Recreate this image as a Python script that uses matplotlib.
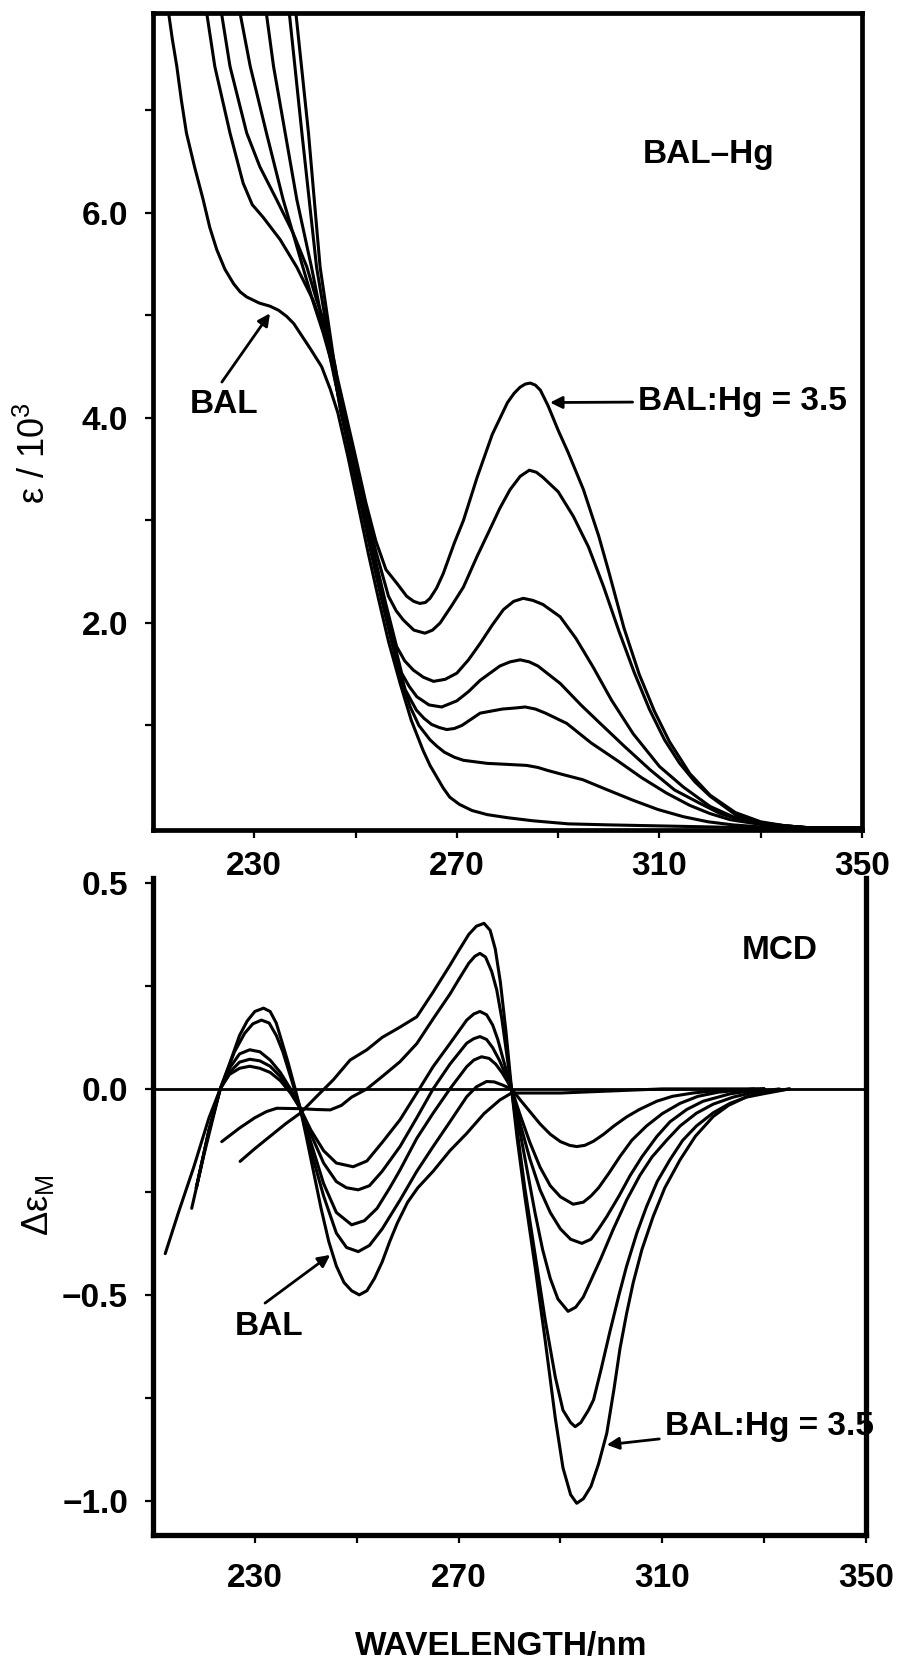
import matplotlib
matplotlib.use("Agg")
import matplotlib.pyplot as plt

plt.rcParams['font.family'] = ['Liberation Sans', 'DejaVu Sans']

## ========================================================
## UV absorption spectra  (epsilon / 10^3)
## C1 = BAL ... C7 = BAL:Hg = 3.5
## ========================================================
uv_wl_1 = [212.8, 213.8, 214.7, 215.6, 216.6, 218.2, 219.9, 221.2, 222.6, 224.2, 225.9, 227.2,
           228.5, 231.0, 233.1, 234.8, 236.4, 237.8, 239.0, 241.0, 243.3, 245.0, 246.5, 248.5,
           250.5, 252.5, 254.5, 256.5, 258.8, 261.0, 263.3, 264.7, 266.0, 267.3, 268.6, 270.5,
           273.0, 276.0, 280.0, 285.0, 292.0, 300.0, 310.0, 320.0, 330.0, 350.0]
uv_eps_1 = [8.05, 7.70, 7.43, 7.10, 6.78, 6.45, 6.13, 5.86, 5.64, 5.45, 5.31, 5.23,
            5.18, 5.12, 5.09, 5.05, 4.99, 4.92, 4.83, 4.68, 4.50, 4.28, 4.05, 3.62,
            3.15, 2.68, 2.24, 1.82, 1.41, 1.05, 0.76, 0.61, 0.50, 0.39, 0.30, 0.23,
            0.17, 0.13, 0.10, 0.07, 0.04, 0.03, 0.02, 0.01, 0.0, 0.0]

uv_wl_2 = [220.3, 222.2, 225.2, 227.8, 229.6, 231.7, 235.1, 238.4, 241.6, 244.0, 245.6, 247.0,
           249.0, 251.0, 253.0, 255.0, 257.0, 259.0, 260.8, 262.5, 264.7, 266.0, 267.5, 269.5,
           271.3, 276.0, 280.0, 283.8, 286.0, 288.0, 291.0, 294.9, 299.8, 304.8, 309.7, 314.7,
           319.6, 324.5, 330.0, 340.0, 350.0]
uv_eps_2 = [8.05, 7.43, 6.78, 6.29, 6.08, 5.96, 5.74, 5.47, 5.15, 4.83, 4.50, 4.08,
            3.62, 3.16, 2.70, 2.26, 1.84, 1.45, 1.18, 1.00, 0.86, 0.80, 0.74, 0.69,
            0.66, 0.63, 0.62, 0.61, 0.59, 0.56, 0.52, 0.47, 0.37, 0.27, 0.18, 0.11,
            0.06, 0.03, 0.01, 0.0, 0.0]

uv_wl_3 = [223.2, 225.2, 228.5, 231.1, 234.4, 237.7, 240.4, 242.3, 244.5, 246.0, 247.2, 249.3,
           251.3, 253.3, 255.3, 257.3, 259.8, 262.0, 263.5, 265.0, 266.5, 268.0, 269.5, 271.0,
           274.6, 279.0, 281.5, 283.5, 285.5, 287.5, 291.7, 296.5, 301.6, 306.5, 311.4, 316.0,
           320.0, 324.0, 327.9, 332.0, 340.0, 350.0]
uv_eps_3 = [8.05, 7.43, 6.78, 6.45, 6.13, 5.80, 5.47, 5.15, 4.83, 4.50, 4.08, 3.58,
            3.12, 2.66, 2.22, 1.80, 1.35, 1.15, 1.07, 1.01, 0.98, 0.96, 0.97, 1.00,
            1.12, 1.16, 1.17, 1.18, 1.16, 1.12, 1.02, 0.83, 0.66, 0.49, 0.34, 0.22,
            0.14, 0.08, 0.05, 0.02, 0.0, 0.0]

uv_wl_4 = [226.8, 229.2, 232.4, 235.7, 239.6, 241.5, 243.6, 245.5, 247.2, 249.5, 251.5, 253.5,
           255.5, 257.5, 259.1, 260.6, 262.1, 264.5, 267.0, 270.0, 272.3, 274.6, 278.5, 280.5,
           282.5, 284.3, 286.0, 290.4, 294.5, 298.3, 303.0, 308.1, 313.0, 318.0, 322.0, 325.9,
           330.0, 335.0, 340.0, 350.0]
uv_eps_4 = [8.05, 7.43, 6.78, 6.13, 5.47, 5.15, 4.83, 4.50, 4.05, 3.55, 3.10, 2.67,
            2.25, 1.83, 1.51, 1.38, 1.28, 1.20, 1.18, 1.24, 1.33, 1.44, 1.58, 1.62,
            1.64, 1.62, 1.58, 1.41, 1.20, 1.02, 0.80, 0.57, 0.37, 0.24, 0.14, 0.08,
            0.04, 0.02, 0.0, 0.0]

uv_wl_5 = [232.1, 233.8, 236.1, 238.4, 241.3, 243.0, 244.5, 246.0, 247.5, 250.0, 252.0, 254.0,
           256.0, 258.1, 259.7, 261.4, 263.4, 265.4, 267.7, 270.0, 272.3, 274.6, 277.0, 279.2,
           281.2, 283.1, 285.0, 287.0, 290.4, 293.5, 296.9, 300.5, 304.8, 310.0, 314.7, 320.0,
           324.5, 330.0, 335.0, 340.0, 350.0]
uv_eps_5 = [8.05, 7.43, 6.78, 6.13, 5.47, 5.05, 4.70, 4.35, 4.02, 3.50, 3.05, 2.60,
            2.18, 1.77, 1.63, 1.54, 1.47, 1.43, 1.45, 1.51, 1.64, 1.80, 1.98, 2.13,
            2.21, 2.24, 2.22, 2.18, 2.06, 1.85, 1.57, 1.25, 0.92, 0.60, 0.40, 0.21,
            0.11, 0.04, 0.02, 0.0, 0.0]

uv_wl_6 = [236.7, 239.4, 242.3, 245.6, 247.8, 250.0, 252.0, 254.0, 256.5, 258.0, 259.4, 261.5,
           263.7, 265.2, 266.7, 269.0, 271.3, 274.0, 276.5, 278.5, 280.5, 282.5, 284.3, 285.7,
           287.0, 290.0, 293.0, 296.0, 299.0, 302.0, 305.0, 308.0, 311.0, 314.0, 317.0, 320.0,
           325.0, 330.0, 335.0, 340.0, 350.0]
uv_eps_6 = [8.05, 6.78, 5.47, 4.50, 4.03, 3.55, 3.10, 2.70, 2.26, 2.12, 2.03, 1.93,
            1.90, 1.93, 2.00, 2.17, 2.35, 2.65, 2.91, 3.12, 3.30, 3.43, 3.49, 3.47,
            3.42, 3.28, 3.04, 2.74, 2.35, 1.92, 1.52, 1.16, 0.86, 0.63, 0.45, 0.31,
            0.13, 0.05, 0.02, 0.0, 0.0]

uv_wl_7 = [238.0, 240.7, 243.0, 245.9, 248.0, 250.0, 252.0, 254.0, 256.0, 258.1, 260.1, 261.5,
           262.7, 263.8, 264.7, 266.0, 267.3, 269.5, 271.3, 274.0, 277.0, 280.0, 281.3, 282.5,
           283.5, 284.5, 285.5, 286.5, 288.0, 290.0, 292.0, 295.0, 298.0, 300.0, 303.0, 306.0,
           309.0, 312.0, 316.0, 320.0, 325.0, 330.0, 335.0, 340.0, 350.0]
uv_eps_7 = [8.05, 6.78, 5.47, 4.50, 4.05, 3.62, 3.18, 2.80, 2.52, 2.39, 2.26, 2.21,
            2.19, 2.20, 2.24, 2.34, 2.48, 2.78, 3.00, 3.42, 3.84, 4.15, 4.24, 4.30,
            4.33, 4.34, 4.32, 4.27, 4.12, 3.88, 3.66, 3.30, 2.85, 2.50, 1.95, 1.50,
            1.14, 0.84, 0.53, 0.32, 0.15, 0.06, 0.02, 0.0, 0.0]

## ========================================================
## MCD spectra  (delta epsilon_M)
## A = BAL ... G = BAL:Hg = 3.5
## ========================================================
mcd_wl_a = [212.4, 215.0, 218.0, 221.0, 223.2, 225.0, 227.0, 228.5, 230.0, 231.7, 233.0, 234.2,
            235.3, 236.5, 237.7, 238.9, 240.0, 241.5, 243.0, 244.5, 246.0, 247.5, 249.0, 250.5,
            252.0, 253.5, 255.0, 256.5, 258.0, 260.0, 262.0, 265.0, 268.3, 271.6, 275.0, 278.1,
            280.4, 285.0, 290.0, 300.0, 310.0, 330.0]
mcd_val_a = [-0.40, -0.30, -0.19, -0.07, 0.0, 0.06, 0.13, 0.165, 0.188, 0.196, 0.188, 0.16,
             0.115, 0.065, 0.01, -0.047, -0.11, -0.20, -0.29, -0.37, -0.43, -0.47, -0.49, -0.50,
             -0.49, -0.46, -0.42, -0.37, -0.325, -0.275, -0.24, -0.20, -0.15, -0.108, -0.06, -0.027,
             -0.01, -0.01, -0.01, -0.005, 0.0, 0.0]

mcd_wl_b = [217.6, 220.0, 223.2, 226.0, 228.0, 229.6, 231.3, 232.8, 234.2, 235.5, 237.0, 238.9,
            241.0, 243.5, 246.0, 248.0, 250.3, 252.5, 255.0, 258.5, 261.8, 265.0, 268.3, 271.6,
            273.5, 275.5, 277.0, 278.5, 280.4, 282.0, 284.0, 286.0, 288.0, 290.0, 291.8, 293.2,
            294.8, 296.5, 298.5, 300.5, 303.0, 305.5, 308.9, 312.0, 316.0, 320.0, 330.0]
mcd_val_b = [-0.29, -0.16, 0.0, 0.09, 0.135, 0.158, 0.167, 0.16, 0.13, 0.09, 0.03, -0.047,
             -0.15, -0.26, -0.35, -0.385, -0.395, -0.38, -0.34, -0.27, -0.20, -0.14, -0.08, -0.019,
             0.005, 0.018, 0.017, 0.01, 0.0, -0.025, -0.055, -0.085, -0.11, -0.128, -0.137, -0.14,
             -0.137, -0.127, -0.11, -0.09, -0.068, -0.05, -0.03, -0.018, -0.01, -0.005, 0.0]

mcd_wl_c = [218.5, 221.0, 223.2, 225.0, 227.0, 229.0, 231.0, 233.0, 235.0, 237.0, 238.9, 241.0,
            243.5, 246.0, 249.0, 251.5, 254.0, 256.5, 258.5, 261.8, 265.0, 268.3, 271.6, 273.0,
            274.5, 276.0, 277.3, 278.5, 279.5, 280.4, 282.0, 284.0, 286.0, 288.0, 290.0, 292.5,
            294.5, 296.0, 297.5, 299.5, 301.7, 304.0, 306.9, 310.0, 313.5, 317.0, 321.0, 328.0]
mcd_val_c = [-0.24, -0.10, 0.0, 0.05, 0.085, 0.095, 0.09, 0.07, 0.04, 0.0, -0.047, -0.13,
             -0.23, -0.30, -0.33, -0.32, -0.29, -0.24, -0.197, -0.12, -0.059, 0.0, 0.054, 0.07,
             0.078, 0.074, 0.06, 0.04, 0.02, 0.0, -0.06, -0.13, -0.19, -0.235, -0.262, -0.28,
             -0.275, -0.26, -0.24, -0.205, -0.164, -0.125, -0.09, -0.06, -0.035, -0.018, -0.008, 0.0]

mcd_wl_d = [218.5, 221.0, 223.2, 225.0, 227.0, 229.0, 231.0, 233.0, 235.0, 237.0, 238.9, 241.0,
            243.5, 246.0, 248.0, 250.3, 252.5, 255.0, 258.5, 261.8, 265.0, 268.3, 271.6, 273.0,
            274.2, 275.5, 276.7, 278.0, 279.2, 280.4, 282.0, 284.0, 286.0, 288.0, 290.0, 292.0,
            294.2, 296.0, 297.5, 299.1, 301.5, 303.7, 306.0, 308.9, 311.5, 314.8, 318.0, 323.3, 330.0]
mcd_val_d = [-0.24, -0.10, 0.0, 0.04, 0.065, 0.072, 0.068, 0.055, 0.03, -0.005, -0.047, -0.11,
             -0.18, -0.225, -0.24, -0.245, -0.235, -0.20, -0.14, -0.07, 0.0, 0.06, 0.111, 0.122,
             0.127, 0.12, 0.10, 0.07, 0.035, 0.0, -0.08, -0.17, -0.245, -0.30, -0.34, -0.365,
             -0.375, -0.365, -0.34, -0.31, -0.26, -0.21, -0.165, -0.116, -0.08, -0.05, -0.03, -0.012, 0.0]

mcd_wl_e = [218.5, 221.0, 223.2, 225.0, 227.0, 229.0, 231.0, 233.0, 235.0, 237.0, 238.9, 241.0,
            243.5, 246.0, 249.3, 252.0, 255.0, 258.5, 261.8, 265.0, 268.3, 271.6, 273.0, 274.2,
            275.5, 276.7, 277.7, 278.8, 280.4, 282.0, 283.5, 285.0, 286.5, 288.0, 289.5, 291.5,
            293.0, 294.5, 295.8, 298.0, 300.4, 303.0, 305.6, 308.0, 310.9, 313.5, 316.7, 320.0,
            323.9, 328.0, 333.0]
mcd_val_e = [-0.24, -0.10, 0.0, 0.035, 0.05, 0.055, 0.05, 0.04, 0.02, -0.01, -0.047, -0.10,
             -0.15, -0.18, -0.189, -0.175, -0.13, -0.075, -0.01, 0.054, 0.11, 0.167, 0.182, 0.188,
             0.18, 0.155, 0.12, 0.07, 0.0, -0.10, -0.20, -0.30, -0.39, -0.46, -0.51, -0.54,
             -0.53, -0.505, -0.47, -0.41, -0.34, -0.27, -0.21, -0.165, -0.124, -0.09, -0.059, -0.037,
             -0.02, -0.008, 0.0]

mcd_wl_f = [223.5, 227.0, 230.0, 232.3, 234.3, 238.9, 242.0, 244.8, 247.0, 249.0, 252.0, 255.0,
            258.5, 261.8, 265.0, 268.3, 270.0, 272.0, 273.2, 274.2, 275.3, 276.5, 277.5, 278.5,
            279.5, 280.4, 281.5, 283.0, 285.0, 287.0, 289.0, 290.5, 292.0, 292.9, 294.0, 295.5,
            296.5, 298.0, 299.7, 301.5, 303.0, 305.0, 306.9, 309.0, 311.5, 314.0, 316.7, 320.0,
            323.3, 326.5, 329.8, 335.0]
mcd_val_f = [-0.128, -0.095, -0.07, -0.055, -0.047, -0.048, -0.05, -0.051, -0.04, -0.02, 0.0, 0.03,
             0.066, 0.11, 0.17, 0.23, 0.265, 0.305, 0.322, 0.329, 0.32, 0.285, 0.24, 0.17,
             0.08, 0.0, -0.10, -0.24, -0.40, -0.56, -0.70, -0.78, -0.81, -0.82, -0.81, -0.78,
             -0.755, -0.68, -0.59, -0.50, -0.43, -0.35, -0.286, -0.225, -0.172, -0.125, -0.09, -0.058,
             -0.035, -0.02, -0.012, 0.0]

mcd_wl_g = [227.1, 230.0, 233.0, 236.0, 238.9, 242.0, 245.4, 248.7, 252.0, 255.0, 258.5, 261.8,
            265.0, 268.3, 270.0, 272.0, 273.5, 275.0, 276.2, 277.2, 278.2, 279.3, 280.4, 281.5,
            283.0, 285.0, 287.0, 289.0, 290.5, 292.0, 293.2, 294.5, 296.0, 297.5, 299.1, 300.5,
            301.7, 303.0, 304.3, 306.0, 308.2, 310.5, 313.5, 316.5, 320.0, 323.0, 326.6, 330.0, 335.0]
mcd_val_g = [-0.176, -0.145, -0.115, -0.085, -0.059, -0.02, 0.022, 0.07, 0.095, 0.125, 0.15, 0.175,
             0.235, 0.30, 0.335, 0.375, 0.395, 0.402, 0.385, 0.34, 0.26, 0.14, 0.0, -0.12,
             -0.26, -0.43, -0.61, -0.80, -0.92, -0.985, -1.006, -0.995, -0.965, -0.91, -0.836, -0.73,
             -0.63, -0.545, -0.47, -0.39, -0.31, -0.24, -0.172, -0.115, -0.067, -0.04, -0.019, -0.008, 0.0]

uv_curves = [(uv_wl_1, uv_eps_1), (uv_wl_2, uv_eps_2), (uv_wl_3, uv_eps_3), (uv_wl_4, uv_eps_4),
             (uv_wl_5, uv_eps_5), (uv_wl_6, uv_eps_6), (uv_wl_7, uv_eps_7)]
mcd_curves = [(mcd_wl_a, mcd_val_a), (mcd_wl_b, mcd_val_b), (mcd_wl_c, mcd_val_c),
              (mcd_wl_d, mcd_val_d), (mcd_wl_e, mcd_val_e), (mcd_wl_f, mcd_val_f),
              (mcd_wl_g, mcd_val_g)]

x_ticks = [230, 250, 270, 290, 310, 330, 350]
x_ticklabels = ['230', '', '270', '', '310', '', '350']
uv_yticks = [1, 2, 3, 4, 5, 6, 7]
uv_yticklabels = ['', '2.0', '', '4.0', '', '6.0', '']
mcd_yticks = [-1.0, -0.75, -0.5, -0.25, 0.0, 0.25, 0.5]
mcd_yticklabels = ['\u22121.0', '', '\u22120.5', '', '0.0', '', '0.5']

W, H = 898, 1663
TICK_FS = 24
ARROW = dict(arrowstyle='-|>', color='black', lw=2.0, mutation_scale=18)


def px_axes(left, top, right, bottom):
    return [left / W, 1 - bottom / H, (right - left) / W, (bottom - top) / H]


fig = plt.figure(figsize=(W / 100, H / 100), dpi=100)

## ---------------- top: absorption ----------------
ax1 = fig.add_axes(px_axes(153, 13, 862, 830))
for wl, eps in uv_curves:
    ax1.plot(wl, eps, color='black', lw=2.2, solid_joinstyle='round', solid_capstyle='round')
ax1.set_xlim(210, 350)
ax1.set_ylim(-0.02, 7.95)
ax1.set_xticks(x_ticks)
ax1.set_xticklabels(x_ticklabels, fontsize=TICK_FS, fontweight='bold')
ax1.set_yticks(uv_yticks)
ax1.set_yticklabels(uv_yticklabels, fontsize=TICK_FS, fontweight='bold')
ax1.tick_params(axis='x', direction='out', length=6, width=1.6, pad=9)
ax1.tick_params(axis='y', direction='out', length=6, width=1.6, pad=12)
for s in ax1.spines.values():
    s.set_linewidth(3.4)

ax1.text(306.8, 6.57, 'BAL\u2013Hg', fontsize=TICK_FS, fontweight='bold', ha='left', va='center')
ax1.annotate('BAL:Hg = 3.5', xy=(288.4, 4.15), xytext=(305.8, 4.16),
             fontsize=TICK_FS, fontweight='bold', ha='left', va='center',
             arrowprops=dict(ARROW, shrinkA=2, shrinkB=0))
ax1.annotate('', xy=(233.1, 5.02), xytext=(223.6, 4.35),
             arrowprops=dict(ARROW, shrinkA=0, shrinkB=0))
ax1.text(217.3, 4.13, 'BAL', fontsize=TICK_FS, fontweight='bold', ha='left', va='center')

fig.text(35 / W, 1 - 453 / H, '\u03b5 / 10$^{\\mathregular{3}}$', fontsize=26, rotation=90,
         ha='center', va='center')

## ---------------- bottom: MCD ----------------
ax2 = fig.add_axes(px_axes(153, 878, 866, 1535))
ax2.axhline(0, color='black', lw=2.0)
for wl, val in mcd_curves:
    ax2.plot(wl, val, color='black', lw=2.2, solid_joinstyle='round', solid_capstyle='round')
ax2.set_xlim(210, 350)
ax2.set_ylim(-1.083, 0.512)
ax2.set_xticks(x_ticks)
ax2.set_xticklabels(x_ticklabels, fontsize=TICK_FS, fontweight='bold')
ax2.set_yticks(mcd_yticks)
ax2.set_yticklabels(mcd_yticklabels, fontsize=TICK_FS, fontweight='bold')
ax2.tick_params(axis='x', direction='out', length=6, width=1.6, pad=14)
ax2.tick_params(axis='y', direction='out', length=6, width=1.6, pad=12)
ax2.spines['top'].set_visible(False)
for k in ['left', 'right', 'bottom']:
    ax2.spines[k].set_linewidth(3.8)

ax2.text(325.6, 0.337, 'MCD', fontsize=TICK_FS, fontweight='bold', ha='left', va='center')
ax2.annotate('', xy=(244.8, -0.403), xytext=(232.0, -0.52),
             arrowprops=dict(ARROW, shrinkA=0, shrinkB=0))
ax2.text(226.1, -0.578, 'BAL', fontsize=TICK_FS, fontweight='bold', ha='left', va='center')
ax2.annotate('BAL:Hg = 3.5', xy=(299.1, -0.864), xytext=(310.5, -0.82),
             fontsize=TICK_FS, fontweight='bold', ha='left', va='center',
             arrowprops=dict(ARROW, shrinkA=2, shrinkB=0))

fig.text(38 / W, 1 - 1205 / H, '\u0394\u03b5$_{\\mathregular{M}}$', fontsize=26, rotation=90,
         ha='center', va='center')
fig.text(501 / W, 1 - 1647 / H, 'WAVELENGTH/nm', fontsize=TICK_FS, fontweight='bold',
         ha='center', va='center')

fig.savefig('out.png', dpi=100, facecolor='white')
